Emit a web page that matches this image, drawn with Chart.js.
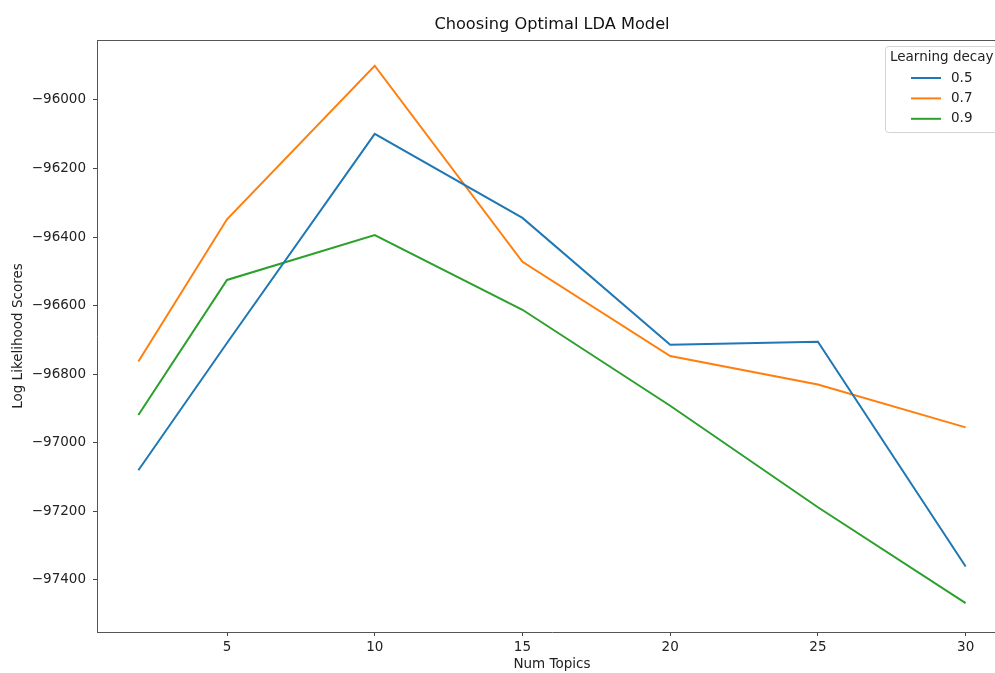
<!DOCTYPE html>
<html><head><meta charset="utf-8">
<script src="https://cdn.jsdelivr.net/npm/chart.js@4"></script>
<style>
html,body{margin:0;padding:0;background:#fff;overflow:hidden;}
#wrap{width:995px;height:673px;overflow:hidden;position:relative;}
canvas{display:block;}
</style></head><body>
<div id="wrap"><canvas id="c" width="1104" height="673"></canvas></div>
<script>
const numTopics = [2, 5, 10, 15, 20, 25, 30];
const seriesLabels = ['0.5', '0.7', '0.9'];
const decay05 = [-97080, -96709, -96099, -96344, -96714, -96705, -97361];
const decay07 = [-96763, -96348, -95900, -96472, -96747, -96830, -96955];
const decay09 = [-96919, -96525, -96394, -96612, -96892, -97188, -97468];
const xTicks = [5, 10, 15, 20, 25, 30];
const yTicks = [-97400, -97200, -97000, -96800, -96600, -96400, -96200, -96000];
const chartTitle = 'Choosing Optimal LDA Model';
const xTitle = 'Num Topics';
const yTitle = 'Log Likelihood Scores';
const legendTitle = 'Learning decay';
const colors = ['#1f77b4', '#ff7f0e', '#2ca02c'];

const FONT = '"DejaVu Sans", "Liberation Sans", sans-serif';
const spineColor = '#555';
const FS = 13.5;

const allSeries = [decay05, decay07, decay09];
const datasets = allSeries.map((vals, i) => ({
  label: seriesLabels[i],
  data: numTopics.map((x, j) => ({x: x, y: vals[j]})),
  borderColor: colors[i],
  backgroundColor: colors[i],
  borderWidth: 2,
  pointRadius: 0,
  tension: 0,
  fill: false
}));

const spinePlugin = {
  id: 'spines',
  beforeDatasetsDraw(chart) {
    const {ctx, chartArea: a} = chart;
    ctx.save();
    ctx.strokeStyle = spineColor;
    ctx.lineWidth = 1;
    ctx.beginPath();
    ctx.moveTo(a.left, a.top + 0.5);
    ctx.lineTo(a.right, a.top + 0.5);
    ctx.moveTo(a.right - 0.5, a.top);
    ctx.lineTo(a.right - 0.5, a.bottom);
    ctx.stroke();
    ctx.restore();
  }
};

const legendPlugin = {
  id: 'mplLegend',
  afterDraw(chart) {
    const ctx = chart.ctx;
    ctx.save();
    const x0 = 885.5, y0 = 46.5, w = 116, h = 86;
    ctx.beginPath();
    if (ctx.roundRect) ctx.roundRect(x0, y0, w, h, 3); else ctx.rect(x0, y0, w, h);
    ctx.fillStyle = 'rgba(255,255,255,0.85)';
    ctx.fill();
    ctx.strokeStyle = '#d4d4d4';
    ctx.lineWidth = 1;
    ctx.stroke();
    ctx.font = FS + 'px ' + FONT;
    ctx.fillStyle = '#222';
    ctx.textBaseline = 'middle';
    ctx.textAlign = 'left';
    ctx.fillText(legendTitle, 890, 57.5);
    chart.data.datasets.forEach((ds, i) => {
      const y = 78 + i * 20.4;
      ctx.strokeStyle = ds.borderColor;
      ctx.lineWidth = 2;
      ctx.beginPath();
      ctx.moveTo(911, y);
      ctx.lineTo(941, y);
      ctx.stroke();
      ctx.fillText(ds.label, 951, y);
    });
    ctx.restore();
  }
};

const fmtMinus = v => (v < 0 ? '\u2212' + Math.abs(v) : String(v));

new Chart(document.getElementById('c'), {
  type: 'line',
  data: {datasets: datasets},
  options: {
    responsive: false,
    animation: false,
    layout: {padding: {left: 0, right: 97, top: 0, bottom: 0}},
    plugins: {
      legend: {display: false},
      tooltip: {enabled: false},
      title: {
        display: true,
        fullSize: false,
        text: chartTitle,
        color: '#111',
        font: {family: FONT, size: 16.2, weight: 'normal'},
        padding: {top: 15.3, bottom: 5.26}
      }
    },
    scales: {
      x: {
        type: 'linear',
        min: 0.6,
        max: 31.4,
        afterBuildTicks: s => { s.ticks = xTicks.map(v => ({value: v})); },
        afterFit: s => { s.height = 41; },
        ticks: {
          color: '#222',
          font: {family: FONT, size: FS},
          padding: 3,
          autoSkip: false,
          maxRotation: 0,
          callback: v => fmtMinus(v)
        },
        grid: {drawOnChartArea: false, drawTicks: true, tickLength: 4, color: '#444', tickWidth: 1},
        border: {display: true, color: spineColor, width: 1},
        title: {
          display: true, text: xTitle, color: '#222',
          font: {family: FONT, size: FS}, padding: {top: 0, bottom: 0}
        }
      },
      y: {
        type: 'linear',
        min: -97552,
        max: -95825,
        afterBuildTicks: s => { s.ticks = yTicks.map(v => ({value: v})); },
        afterFit: s => { s.width = 97; },
        ticks: {
          color: '#222',
          font: {family: FONT, size: FS},
          padding: 7,
          autoSkip: false,
          callback: v => fmtMinus(v)
        },
        grid: {drawOnChartArea: false, drawTicks: true, tickLength: 4, color: '#444', tickWidth: 1},
        border: {display: true, color: spineColor, width: 1},
        title: {
          display: true, text: yTitle, color: '#222',
          font: {family: FONT, size: FS}, padding: {top: 10, bottom: 0}
        }
      }
    }
  },
  plugins: [spinePlugin, legendPlugin]
});
</script>
</body></html>
